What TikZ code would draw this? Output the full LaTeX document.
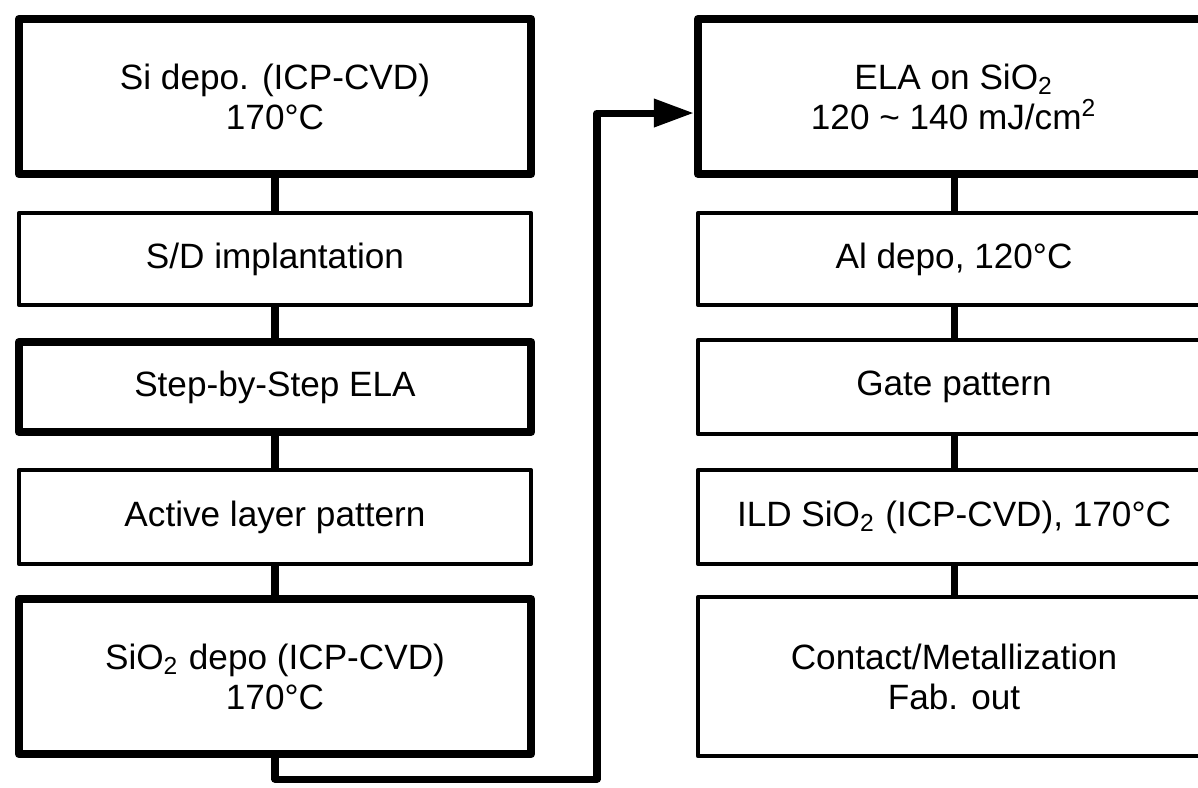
\documentclass[tikz,border=0pt]{standalone}
\usepackage{fontspec}
\setmainfont{Liberation Sans}
\usetikzlibrary{arrows.meta}
\begin{document}
\begin{tikzpicture}[x=0.01cm,y=-0.01cm,font=\fontsize{10}{11.4}\selectfont,line join=round,
    stepbox/.style={draw,rectangle,align=center,inner sep=0pt,minimum width=5.12cm},
    heavy/.style={stepbox,line width=2.3pt},
    light/.style={stepbox,line width=1.1pt},
    link/.style={line width=2pt},
    loopline/.style={line width=2pt,-{Triangle[length=0.4cm,width=0.27cm]}}]
    \useasboundingbox (0,0) rectangle (1198,787);
    \clip (0,0) rectangle (1198,787);
    % left column
    \node[heavy,minimum height=1.55cm] (sidepo) at (275,96.5) {Si depo. (ICP-CVD)\\170°C};
    \node[light,minimum height=0.92cm] (sdimp) at (275,259) {S/D implantation};
    \node[heavy,minimum height=0.90cm] (stepela) at (275,387) {Step-by-Step ELA};
    \node[light,minimum height=0.94cm] (active) at (275,517) {Active layer pattern};
    \node[heavy,minimum height=1.55cm] (oxdepo) at (275,676.5) {SiO\textsubscript{2} depo (ICP-CVD)\\170°C};
    % right column
    \node[heavy,minimum height=1.55cm] (elaox) at (954,96.5) {ELA on SiO\textsubscript{2}\\120 \textasciitilde\ 140 mJ/cm\textsuperscript{2}};
    \node[light,minimum height=0.92cm] (aldepo) at (954,259) {Al depo, 120°C};
    \node[light,minimum height=0.94cm] (gate) at (954,387) {Gate pattern};
    \node[light,minimum height=0.94cm] (ild) at (954,517) {ILD SiO\textsubscript{2} (ICP-CVD), 170°C};
    \node[light,minimum height=1.59cm] (contact) at (954,676.5) {Contact/Metallization\\Fab. out};
    % links
    \draw[link] (sidepo) -- (sdimp);
    \draw[link] (sdimp) -- (stepela);
    \draw[link] (stepela) -- (active);
    \draw[link] (active) -- (oxdepo);
    \draw[link] (elaox) -- (aldepo);
    \draw[link] (aldepo) -- (gate);
    \draw[link] (gate) -- (ild);
    \draw[link] (ild) -- (contact);
    % return path
    \coordinate (bendA) at (275,779);
    \coordinate (bendB) at (597,779);
    \draw[loopline] (oxdepo.south) -- (bendA) -- (bendB) |- ([yshift=-0.165cm]elaox.west);
\end{tikzpicture}
\end{document}
